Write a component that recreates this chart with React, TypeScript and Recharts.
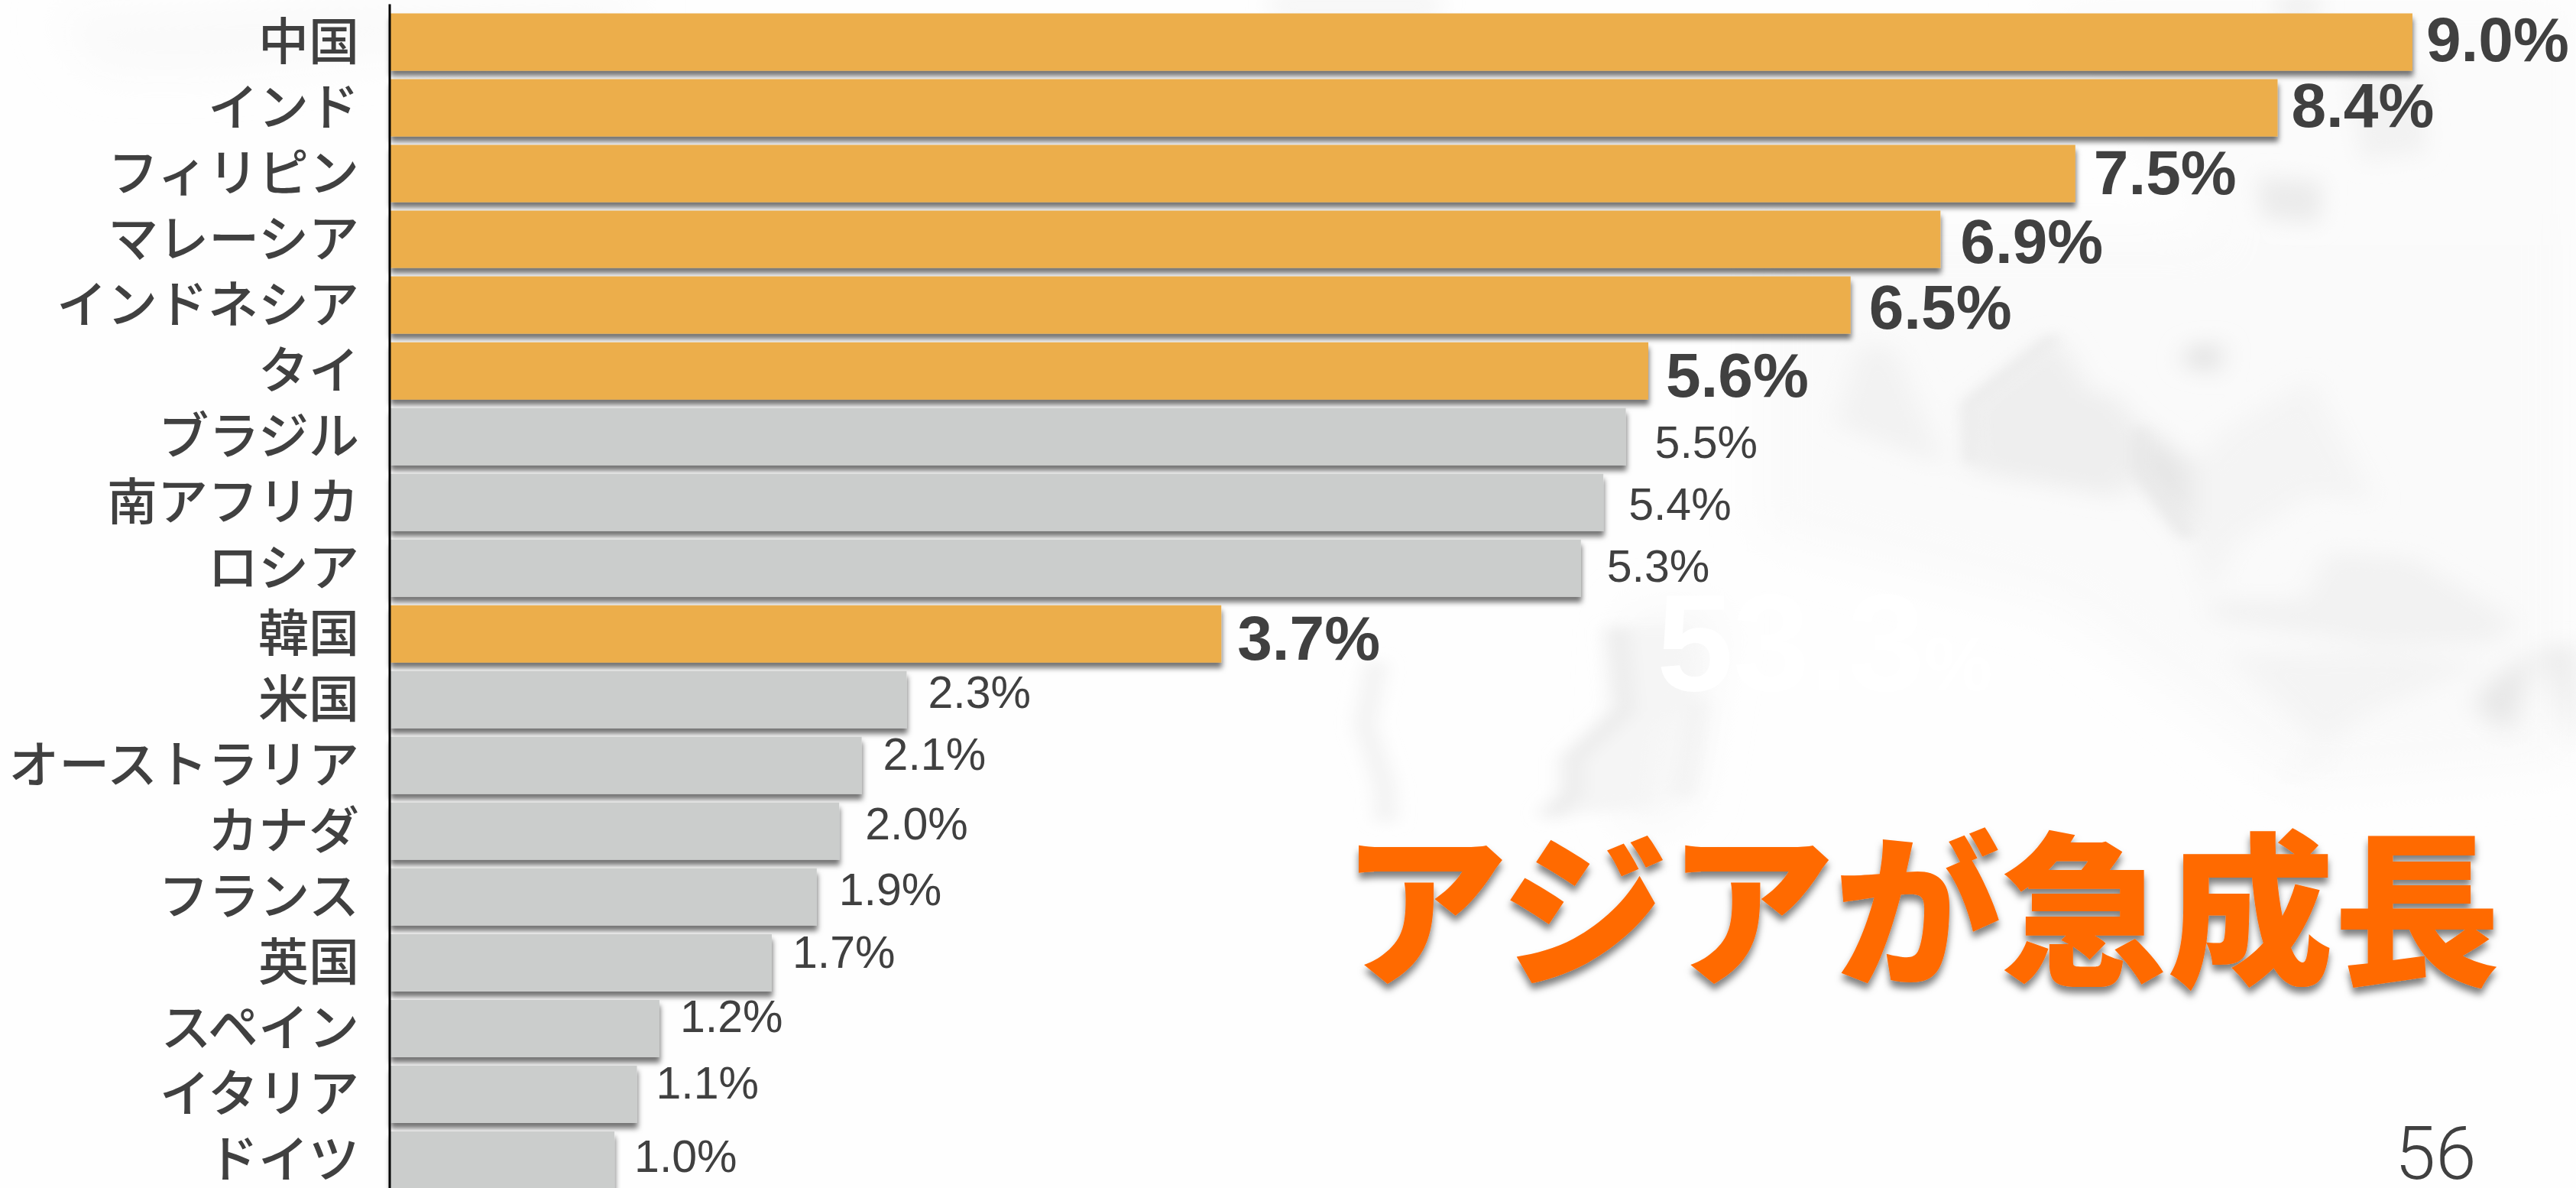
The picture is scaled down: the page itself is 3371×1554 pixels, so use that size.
import React from "react";
import { BarChart, Bar, XAxis, YAxis, LabelList, Rectangle } from "recharts";

const categories = ["中国", "インド", "フィリピン", "マレーシア", "インドネシア", "タイ", "ブラジル", "南アフリカ", "ロシア", "韓国", "米国", "オーストラリア", "カナダ", "フランス", "英国", "スペイン", "イタリア", "ドイツ"];
const growth = [9.0, 8.4, 7.5, 6.9, 6.5, 5.6, 5.5, 5.4, 5.3, 3.7, 2.3, 2.1, 2.0, 1.9, 1.7, 1.2, 1.1, 1.0];
const asia = ["中国", "インド", "フィリピン", "マレーシア", "インドネシア", "タイ", "韓国"];
const rows = categories.map((name, i) => ({ name, value: growth[i], asia: asia.includes(name) }));

// hand-placed label offsets in the original slide
const labelDx = [18, 18, 24, 26, 24, 23, 38, 33, 34, 21, 28, 28, 34, 29, 27, 27, 25, 26];
const labelDy = [0, 0, 2, 6, 6, 9, 12, 7, 2, 9, -5, -10, -5, -5, -9, -11, -10, 0];

const TEXT = "#404040";
const SANS = "'Liberation Sans', Arial, sans-serif";
const CJK = "'Noto Sans CJK JP', sans-serif";

const BarLabel = (p: any) => {
  const i = p.index;
  const bold = rows[i].asia;
  return (
    <text x={p.x + p.width + labelDx[i]} y={p.y + p.height / 2 + labelDy[i] - 4} dominantBaseline="central" fontFamily={SANS} fontWeight={bold ? 700 : 400} fontSize={bold ? 82 : 59} fill={TEXT}>
      {`${rows[i].value.toFixed(1)}%`}
    </text>
  );
};

const BarShape = (p: any) => (
  <Rectangle x={p.x} y={p.y} width={p.width} height={p.height} fill={p.payload.asia ? "#ECAE4B" : "#CBCDCC"} filter="url(#barShadow)" />
);

const Background = () => (
  <svg width={3371} height={1554} style={{ position: "absolute", left: 0, top: 0 }}>
    <defs>
      <filter id="mapBlur" x="-40%" y="-40%" width="180%" height="180%"><feGaussianBlur stdDeviation="26" /></filter>
      <filter id="edgeBlur" x="-40%" y="-40%" width="180%" height="180%"><feGaussianBlur stdDeviation="14" /></filter>
      <filter id="mapBlurWide" x="-30%" y="-30%" width="160%" height="160%"><feGaussianBlur stdDeviation="30" /></filter>
    </defs>
    <rect width={3371} height={1554} fill="#fefefe" />
    {/* faint grey seas around the watermark's land */}
    <g filter="url(#mapBlurWide)">
      <path d="M2300,300 L3371,300 L3371,1000 L3000,1030 L2700,800 L2300,700 Z" fill="#fafafa" />
      <path d="M2660,0 L3371,0 L3371,300 L2900,300 Z" fill="#fbfbfb" />
      <path d="M70,20 L850,0 L800,50 L500,70 L280,90 L130,90 Z" fill="#f9f9f9" />
      <path d="M2130,800 L2250,800 L2210,1060 L2120,1080 Z" fill="#f7f7f7" />
    </g>
    <g transform="translate(2300,300) scale(0.683,0.51)" filter="url(#mapBlur)">
      <path d="M570,270 L400,450 L410,620 L700,690 L730,500 L680,420 L640,420 Z" fill="#eeeeee" />
      <path d="M735,500 L830,600 L830,790 L720,620 Z" fill="#e6e6e6" />
      <path d="M830,300 L885,290 L880,370 L820,350 Z" fill="#e0e0e0" />
      <path d="M195,300 L260,300 L360,610 L150,500 Z" fill="#f2f2f2" />
      <path d="M830,610 L890,520 L1060,380 L1180,700 L1060,680 L920,800 L860,950 L830,800 Z" fill="#f4f4f4" />
      <path d="M870,950 L1050,950 L1090,830 L1250,840 L1450,1000 L1420,1060 L1200,1070 L870,1000 Z" fill="#f2f2f2" />
      <path d="M1375,1220 L1440,1300 L1490,1080 L1400,1170 Z" fill="#e6e6e6" />
      <path d="M1500,1080 L1568,1060 L1568,1340 Z" fill="#ebebeb" />
      <path d="M1170,1240 L1330,1150 L1400,1110 L1200,1085 L900,1090 L1100,1350 L990,1420 Z" fill="#f4f4f4" />
    </g>
    <g transform="translate(2300,300) scale(0.683,0.51)" filter="url(#edgeBlur)">
      <path d="M570,275 L405,450 L410,600" fill="none" stroke="#eaeaea" strokeWidth={22} />
      <path d="M735,510 L735,620 L825,790" fill="none" stroke="#e8e8e8" strokeWidth={22} />
    </g>
    <g transform="translate(1600,820) scale(0.51,0.319)" filter="url(#mapBlur)">
      <path d="M1000,0 L1025,350 L890,540 L885,680 L830,780 L1100,740 L1120,420 L1210,280 L1190,0 Z" fill="#f5f5f5" />
      <path d="M1010,0 L1030,340 L895,540 L895,680 L835,780" fill="none" stroke="#e9e9e9" strokeWidth={44} />
      <path d="M395,140 L365,400 L415,650 L420,800" fill="none" stroke="#eeeeee" strokeWidth={40} />
      <path d="M1220,300 L1180,700" fill="none" stroke="#f2f2f2" strokeWidth={50} />
    </g>
    <g filter="url(#edgeBlur)">
      <path d="M2955,232 L3040,238 L3035,292 L2960,285 Z" fill="#ebebeb" />
      <path d="M3075,100 L3170,100 L3175,200 L3090,210 Z" fill="#f2f2f2" />
      <path d="M2975,0 L3040,0 L3030,18 L2985,18 Z" fill="#e8e8e8" />
      <path d="M1655,0 L1890,0 L1880,15 L1670,15 Z" fill="#eeeeee" />
    </g>
    <text x={2168} y={903} fontFamily={SANS} fontWeight={700} fontSize={180} fill="#ffffff">53.3<tspan fontSize={100}>%</tspan></text>
  </svg>
);

export default function App() {
  return (
    <div style={{ position: "absolute", left: 0, top: 0, width: 3371, height: 1554, overflow: "hidden", background: "#fff" }}>
      <Background />
      <div style={{ position: "absolute", left: 0, top: 0 }}>
        <BarChart width={3371} height={1560} data={rows} layout="vertical" margin={{ top: 5.5, right: 67, bottom: 0, left: 0 }} barCategoryGap={0}>
          <defs>
            <filter id="barShadow" x="-3%" y="-10%" width="106%" height="145%">
              <feDropShadow dx="1" dy="7" stdDeviation="3.5" floodColor="#000" floodOpacity="0.55" />
            </filter>
          </defs>
          <XAxis type="number" domain={[0, 9.5]} hide />
          <YAxis
            type="category"
            dataKey="name"
            width={510}
            interval={0}
            padding={{ top: 6, bottom: 0 }}
            axisLine={{ stroke: "#000", strokeWidth: 3 }}
            tickLine={false}
            tickMargin={40}
            tickSize={0}
            tick={{ fontFamily: CJK, fontSize: 66, fontWeight: 500, fill: TEXT }}
          />
          <Bar dataKey="value" barSize={75} isAnimationActive={false} shape={BarShape}>
            <LabelList dataKey="value" content={BarLabel} />
          </Bar>
        </BarChart>
      </div>
      <svg width={3371} height={1554} style={{ position: "absolute", left: 0, top: 0 }}>
        <defs>
          <filter id="titleShadow" x="-3%" y="-10%" width="106%" height="125%">
            <feDropShadow dx="0" dy="8" stdDeviation="5" floodColor="#000" floodOpacity="0.5" />
          </filter>
        </defs>
        <text x={1755} y={1272} fontFamily={CJK} fontWeight={900} fontSize={216} fill="#FF6A00" textLength={1517} lengthAdjust="spacingAndGlyphs" filter="url(#titleShadow)">アジアが急成長</text>
        <text x={3134} y={1542} fontFamily="Roboto, sans-serif" fontWeight={300} fontSize={96} fill={TEXT}>56</text>
      </svg>
    </div>
  );
}
